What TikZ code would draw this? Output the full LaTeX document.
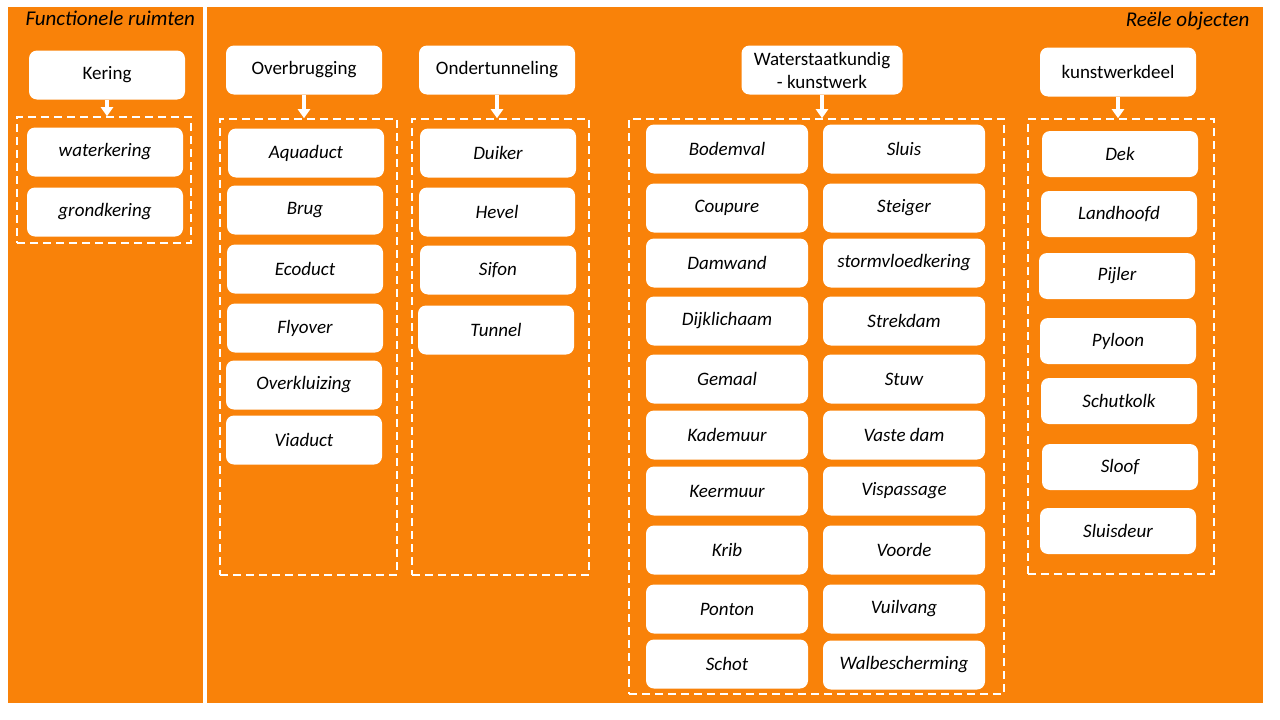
\documentclass[tikz,border=0pt]{standalone}
\usepackage{fontspec}
\setmainfont{Carlito}
\usetikzlibrary{positioning, arrows.meta}
\definecolor{oranje}{RGB}{249,130,9}

\begin{document}
\begin{tikzpicture}[x=1pt, y=-1pt, >={Triangle[width=12pt,length=9pt]},
    kop/.style={fill=white, rounded corners=8pt, minimum width=156pt,
      minimum height=49pt, inner sep=2pt, align=center,
      font=\fontsize{19}{23}\selectfont},
    item/.style={kop, font=\fontsize{19}{23}\selectfont\itshape},
    groep/.style={draw=white, dash pattern=on 8pt off 5pt,
      line width=1.6pt, inner sep=0pt},
    pijl/.style={->, draw=white, fill=white, line width=3.5pt}]
  \useasboundingbox (0,0) rectangle (1280,720);
  % 1. Achtergrond en vlakken
  \fill[white] (0,0) rectangle (1280,720);
  \fill[oranje] (8,7) rectangle (203,703);
  \fill[oranje] (207,7) rectangle (1263,703);
  \node[anchor=west, font=\fontsize{21}{24}\selectfont\itshape] (tFunc) at (22,18) {Functionele ruimten};
  \node[anchor=east, font=\fontsize{21}{24}\selectfont\itshape] (tReel) at (1253,21) {Reële objecten};

  % 2. Kopjes
  \node[kop] (ker) at (107,75) {Kering};
  \node[kop] (ovb) at (304,70) {Overbrugging};
  \node[kop] (ond) at (497,70) {Ondertunneling};
  \node[kop, minimum width=161pt] (wsk) at (822,70) {Waterstaatkundig\\- kunstwerk};
  \node[kop] (kwd) at (1118,72) {kunstwerkdeel};

  % 3. Gestippelde groepen
  \node[groep, minimum width=174pt, minimum height=126pt] (gKer) at (104,180) {};
  \node[groep, minimum width=177pt, minimum height=456pt] (gOvb) at (308.5,347) {};
  \node[groep, minimum width=177pt, minimum height=456pt] (gOnd) at (500.5,347) {};
  \node[groep, minimum width=375pt, minimum height=575pt] (gWsk) at (816.5,406.5) {};
  \node[groep, minimum width=186pt, minimum height=455pt] (gKwd) at (1121,346.5) {};

  % 4. Objecten
  \foreach \naam/\x/\y [count=\i] in {waterkering/105/152, grondkering/105/212}
    \node[item] (ker\i) at (\x,\y) {\naam};
  \foreach \naam/\x/\y [count=\i] in {Aquaduct/306/153, Brug/305/210,
      Ecoduct/305/269, Flyover/305/328, Overkluizing/304/385, Viaduct/304/440}
    \node[item] (ovb\i) at (\x,\y) {\naam};
  \foreach \naam/\x/\y [count=\i] in {Duiker/498/153, Hevel/497/212,
      Sifon/498/270, Tunnel/496/330}
    \node[item] (ond\i) at (\x,\y) {\naam};
  \foreach \naam/\y [count=\i] in {Bodemval/149, Coupure/208, Damwand/263,
      Dijklichaam/321, Gemaal/379, Kademuur/435, Keermuur/491, Krib/550,
      Ponton/609, Schot/664}
    \node[item, minimum width=162pt] (wskL\i) at (727,\y) {\naam};
  \foreach \naam/\y [count=\i] in {Sluis/149, Steiger/208, stormvloedkering/263,
      Strekdam/321, Stuw/379, Vaste dam/435, Vispassage/491, Voorde/550,
      Vuilvang/609, Walbescherming/665}
    \node[item, minimum width=162pt] (wskR\i) at (904,\y) {\naam};
  \foreach \naam/\x/\y [count=\i] in {Dek/1120/154, Landhoofd/1119/214,
      Pijler/1117/276, Pyloon/1118/341, Schutkolk/1119/401, Sloof/1120/467,
      Sluisdeur/1118/531}
    \node[item, minimum height=46pt] (kwd\i) at (\x,\y) {\naam};

  % 5. Pijlen
  \foreach \a/\b in {ker/gKer, ovb/gOvb, ond/gOnd, wsk/gWsk, kwd/gKwd}
    \draw[pijl] (\a.south) -- (\a.south |- \b.north);
\end{tikzpicture}
\end{document}
